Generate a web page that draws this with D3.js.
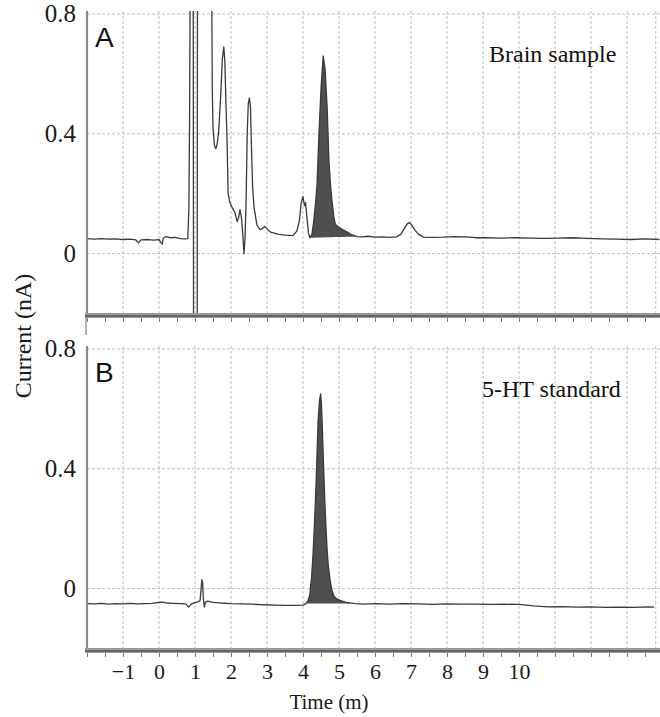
<!DOCTYPE html>
<html><head><meta charset="utf-8">
<script src="https://cdn.jsdelivr.net/npm/d3@7"></script>
<style>body{margin:0;background:#fff} text{font-family:"Liberation Serif","Times New Roman",serif}</style>
</head><body>
<svg id="c" width="660" height="717"></svg>
<script>
// ---------- data ----------
const xTickLabels = [-1,0,1,2,3,4,5,6,7,8,9,10];
const gridTimes = [-1,0,1,2,3,4,5,6,7,8,9,10,11,12,13];
const minorTicks = d3.range(-2, 14, 0.5);
const yTickValues = [0, 0.4, 0.8];
const panelLetters = ["A", "B"];
const panelTitles = ["Brain sample", "5-HT standard"];

// Panel A trace: [time (min), current (nA)]
const traceA = [[-2.0,0.050],[-1.8,0.048],[-1.6,0.050],[-1.4,0.048],[-1.2,0.049],[-1.0,0.047],[-0.8,0.048],[-0.65,0.046],[-0.57,0.036],[-0.5,0.046],[-0.3,0.047],[-0.15,0.045],[0.0,0.047],[0.06,0.036],[0.09,0.032],[0.12,0.052],[0.2,0.057],[0.3,0.053],[0.45,0.054],[0.6,0.050],[0.7,0.049],[0.8,0.050],[0.83,0.15],[0.85,0.45],[0.87,1.0],[0.95,1.0],[0.96,-0.3],[1.06,-0.3],[1.07,1.0],[1.46,1.0],[1.48,0.55],[1.5,0.42],[1.54,0.36],[1.58,0.35],[1.62,0.37],[1.66,0.41],[1.71,0.52],[1.76,0.65],[1.8,0.69],[1.83,0.64],[1.86,0.5],[1.89,0.38],[1.92,0.2],[1.97,0.17],[2.05,0.15],[2.11,0.137],[2.17,0.107],[2.21,0.12],[2.25,0.147],[2.29,0.12],[2.33,0.06],[2.36,0.0],[2.39,0.05],[2.42,0.18],[2.45,0.4],[2.48,0.5],[2.51,0.52],[2.54,0.49],[2.57,0.35],[2.6,0.22],[2.64,0.155],[2.72,0.095],[2.81,0.08],[2.88,0.085],[2.94,0.09],[3.02,0.08],[3.1,0.072],[3.3,0.065],[3.5,0.062],[3.72,0.06],[3.83,0.075],[3.9,0.11],[3.95,0.17],[4.0,0.19],[4.04,0.16],[4.07,0.17],[4.11,0.12],[4.15,0.07],[4.19,0.053],[4.25,0.065],[4.3,0.11],[4.35,0.17],[4.39,0.23],[4.44,0.39],[4.5,0.55],[4.56,0.66],[4.61,0.62],[4.67,0.49],[4.72,0.31],[4.77,0.22],[4.81,0.17],[4.86,0.12],[4.9,0.097],[5.0,0.088],[5.1,0.08],[5.22,0.073],[5.35,0.063],[5.5,0.057],[5.65,0.056],[5.8,0.058],[6.0,0.055],[6.2,0.056],[6.4,0.054],[6.6,0.056],[6.72,0.065],[6.82,0.085],[6.9,0.1],[6.95,0.104],[7.02,0.095],[7.1,0.08],[7.2,0.065],[7.35,0.055],[7.6,0.054],[7.9,0.055],[8.2,0.057],[8.5,0.056],[8.8,0.053],[9.1,0.053],[9.5,0.052],[9.9,0.053],[10.3,0.052],[10.7,0.051],[11.1,0.052],[11.5,0.053],[11.9,0.051],[12.3,0.049],[12.7,0.048],[13.1,0.047],[13.5,0.049],[13.9,0.047]];

// Panel B trace
const traceB = [[-2.0,-0.050],[-1.8,-0.051],[-1.6,-0.049],[-1.4,-0.052],[-1.2,-0.050],[-1.0,-0.051],[-0.8,-0.049],[-0.6,-0.051],[-0.4,-0.050],[-0.2,-0.049],[0.0,-0.046],[0.1,-0.045],[0.2,-0.048],[0.4,-0.049],[0.6,-0.050],[0.75,-0.052],[0.82,-0.062],[0.87,-0.055],[0.92,-0.05],[1.0,-0.047],[1.08,-0.044],[1.14,-0.04],[1.17,0.0],[1.19,0.03],[1.21,0.02],[1.23,-0.03],[1.26,-0.062],[1.29,-0.045],[1.35,-0.042],[1.5,-0.046],[1.7,-0.048],[2.0,-0.05],[2.3,-0.051],[2.6,-0.052],[2.9,-0.054],[3.2,-0.055],[3.5,-0.056],[3.8,-0.056],[4.0,-0.055],[4.08,-0.05],[4.14,-0.04],[4.19,-0.02],[4.24,0.04],[4.28,0.117],[4.32,0.22],[4.36,0.34],[4.39,0.45],[4.42,0.56],[4.46,0.63],[4.49,0.65],[4.51,0.62],[4.53,0.56],[4.56,0.45],[4.58,0.38],[4.61,0.28],[4.64,0.2],[4.67,0.13],[4.7,0.08],[4.75,0.03],[4.8,-0.005],[4.86,-0.025],[4.94,-0.035],[5.05,-0.04],[5.17,-0.045],[5.3,-0.048],[5.45,-0.05],[5.7,-0.052],[6.0,-0.05],[6.4,-0.052],[6.8,-0.05],[7.2,-0.051],[7.6,-0.053],[8.0,-0.051],[8.4,-0.052],[8.8,-0.052],[9.2,-0.053],[9.6,-0.052],[10.0,-0.053],[10.4,-0.058],[10.8,-0.061],[11.2,-0.06],[11.6,-0.062],[12.0,-0.061],[12.4,-0.063],[12.8,-0.062],[13.2,-0.063],[13.6,-0.061],[13.75,-0.062]];

// integrated (shaded) peak windows [start, end] in minutes
const peakA = [4.19, 5.5];
const peakB = [4.08, 5.45];

// ---------- layout ----------
const W = 660, H = 717;
const xDomain = [-2, 13.8];
const yDomain = [-0.205, 0.81];
const x = d3.scaleLinear().domain(xDomain).range([87, 655.8]);
const panels = [
  {top: 11, bottom: 315, trace: traceA, peak: peakA},
  {top: 346, bottom: 650, trace: traceB, peak: peakB}
];
const svg = d3.select("#c");
const serif = '"Liberation Serif","Times New Roman",serif';
const sans = '"Liberation Sans",Arial,sans-serif';

panels.forEach((p, i) => {
  const y = d3.scaleLinear().domain(yDomain).range([p.bottom, p.top]);
  const g = svg.append("g");
  const clipId = "clip" + i;
  svg.append("clipPath").attr("id", clipId).append("rect")
    .attr("x", x(xDomain[0])).attr("y", p.top)
    .attr("width", W - x(xDomain[0])).attr("height", p.bottom - p.top);

  // grid
  g.selectAll("line.vg").data(gridTimes.concat([xDomain[1]])).enter().append("line")
    .attr("x1", d => x(d)).attr("x2", d => x(d))
    .attr("y1", p.top).attr("y2", p.bottom)
    .attr("stroke", "#bdbdbd").attr("stroke-width", 1).attr("stroke-dasharray", "3,2");
  g.selectAll("line.hg").data(yTickValues).enter().append("line")
    .attr("x1", x(xDomain[0])).attr("x2", W)
    .attr("y1", d => y(d)).attr("y2", d => y(d))
    .attr("stroke", "#bdbdbd").attr("stroke-width", 1).attr("stroke-dasharray", "3,2");

  // shaded peak
  const pk = p.peak;
  const s0 = p.trace.find(d => d[0] >= pk[0]);
  const s1 = p.trace.filter(d => d[0] <= pk[1]).slice(-1)[0];
  const base = d3.scaleLinear().domain([s0[0], s1[0]]).range([s0[1], s1[1]]);
  const peakPts = p.trace.filter(d => d[0] >= pk[0] && d[0] <= pk[1]);
  g.append("path").datum(peakPts)
    .attr("d", d3.area().x(d => x(d[0])).y0(d => y(base(d[0]))).y1(d => y(d[1])))
    .attr("fill", "#4f4f4f");

  // trace
  g.append("path").datum(p.trace)
    .attr("clip-path", `url(#${clipId})`)
    .attr("d", d3.line().x(d => x(d[0])).y(d => y(d[1])))
    .attr("fill", "none").attr("stroke", "#3a3a3a").attr("stroke-width", 1.3)
    .attr("stroke-linejoin", "round");

  // left axis line
  g.append("line").attr("x1", x(xDomain[0])).attr("x2", x(xDomain[0]))
    .attr("y1", p.top).attr("y2", p.bottom)
    .attr("stroke", "#8a8a8a").attr("stroke-width", 2.2);

  // y tick labels
  const ya = g.append("g").attr("transform", `translate(${x(xDomain[0]) - 11},0)`)
    .call(d3.axisLeft(y).tickValues(yTickValues).tickSize(0).tickPadding(0)
      .tickFormat(d => d === 0 ? "0" : d3.format(".1f")(d)));
  ya.attr("font-family", null).attr("font-size", null);
  ya.select(".domain").remove();
  ya.selectAll("text").style("font-family", serif).style("font-size", "25px").attr("fill", "#1a1a1a");

  // bottom thick bar + minor ticks
  g.append("rect").attr("x", x(xDomain[0]) - 2).attr("y", p.bottom - 2)
    .attr("width", W - x(xDomain[0]) + 2).attr("height", 5).attr("fill", "#9a9a9a");
  g.append("line").attr("x1", x(xDomain[0]) - 2).attr("x2", W)
    .attr("y1", p.bottom + 1).attr("y2", p.bottom + 1)
    .attr("stroke", "#666").attr("stroke-width", 2);
  const xa = g.append("g").attr("transform", `translate(0,${p.bottom + 3})`)
    .call(d3.axisBottom(x).tickValues(minorTicks).tickSize(4).tickFormat(""));
  xa.select(".domain").remove();
  xa.selectAll("line").attr("stroke", "#777");

  // panel letter and title
  svg.append("text").attr("x", 95).attr("y", p.top + 36)
    .style("font-family", sans).style("font-size", "28px").attr("fill", "#111").text(panelLetters[i]);
  svg.append("text").attr("x", i === 0 ? 489 : 482).attr("y", p.top + 51)
    .style("font-family", serif).style("font-size", "24px").attr("fill", "#111").text(panelTitles[i]);

  if (i === 0) {
    g.append("line").attr("x1", x(xDomain[0]) - 1).attr("x2", x(xDomain[0]) - 1)
      .attr("y1", p.bottom + 3).attr("y2", p.bottom + 20)
      .attr("stroke", "#999").attr("stroke-width", 1.5);
  }
  if (i === 1) {
    const xl = g.append("g").attr("transform", `translate(0,${p.bottom})`)
      .call(d3.axisBottom(x).tickValues(xTickLabels).tickSize(0).tickPadding(13));
    xl.attr("font-family", null).attr("font-size", null);
    xl.select(".domain").remove();
    xl.selectAll("text").style("font-family", serif).style("font-size", "22px").attr("fill", "#1a1a1a");
  }
});

// axis titles
svg.append("text").attr("x", 329).attr("y", 709).attr("text-anchor", "middle")
  .style("font-family", serif).style("font-size", "21px").attr("fill", "#1a1a1a").text("Time (m)");
svg.append("text").attr("transform", "translate(31,336) rotate(-90)").attr("text-anchor", "middle")
  .style("font-family", serif).style("font-size", "24px").attr("fill", "#1a1a1a").text("Current (nA)");
</script>
</body></html>
